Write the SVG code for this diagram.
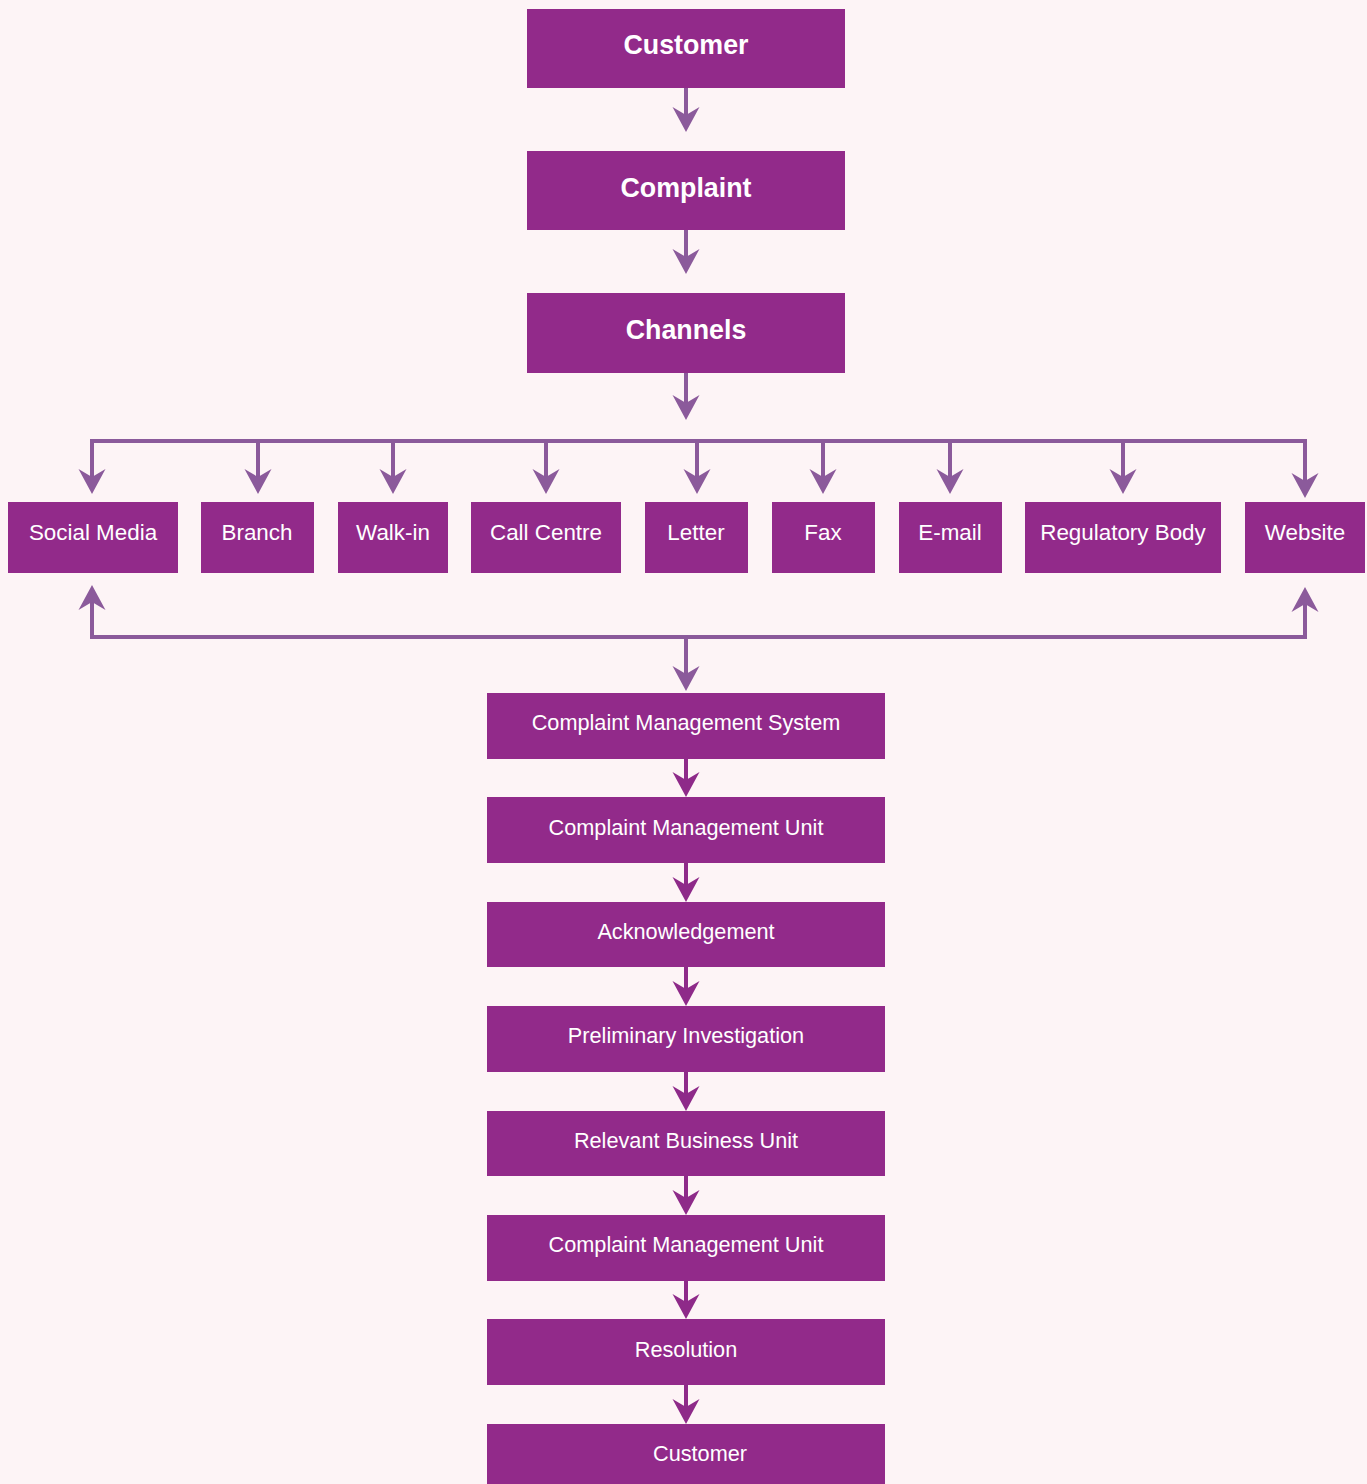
<svg xmlns="http://www.w3.org/2000/svg" width="1367" height="1484" viewBox="0 0 1367 1484">
<defs>
<marker id="ah" markerUnits="userSpaceOnUse" markerWidth="28" markerHeight="30" viewBox="-26 -15 28 30" refX="-17" refY="0" orient="auto">
<path d="M0,0 L-25,-13.5 L-17,0 L-25,13.5 Z" fill="#8b5a9b"/>
</marker>
<marker id="ah2" markerUnits="userSpaceOnUse" markerWidth="28" markerHeight="30" viewBox="-26 -15 28 30" refX="-17" refY="0" orient="auto">
<path d="M0,0 L-25,-13.5 L-17,0 L-25,13.5 Z" fill="#8e2a89"/>
</marker>
</defs>
<style>
.box{fill:#922a8a}
.t1{font-family:"Liberation Sans",Arial,sans-serif;font-size:26.8px;font-weight:bold;fill:#ffffff;text-anchor:middle}
.t2{font-family:"Liberation Sans",Arial,sans-serif;font-size:22.4px;fill:#ffffff;text-anchor:middle}
.t3{font-family:"Liberation Sans",Arial,sans-serif;font-size:21.7px;fill:#ffffff;text-anchor:middle;font-weight:300}
.c{stroke:#8b5a9b;stroke-width:4;fill:none}
.c2{stroke:#8e2a89;stroke-width:4;fill:none}
</style>
<rect width="1367" height="1484" fill="#fdf4f6"/>
<g id="connectors">
<line class="c" x1="686" y1="88" x2="686" y2="115" marker-end="url(#ah)"/>
<line class="c" x1="686" y1="230" x2="686" y2="257" marker-end="url(#ah)"/>
<line class="c" x1="686" y1="373" x2="686" y2="403" marker-end="url(#ah)"/>
<polyline class="c" points="92,477 92,441 1305,441 1305,481" marker-end="url(#ah)"/>
<line class="c" x1="92" y1="441" x2="92" y2="477" marker-end="url(#ah)"/>
<line class="c" x1="258" y1="441" x2="258" y2="477" marker-end="url(#ah)"/>
<line class="c" x1="393" y1="441" x2="393" y2="477" marker-end="url(#ah)"/>
<line class="c" x1="546" y1="441" x2="546" y2="477" marker-end="url(#ah)"/>
<line class="c" x1="697" y1="441" x2="697" y2="477" marker-end="url(#ah)"/>
<line class="c" x1="823" y1="441" x2="823" y2="477" marker-end="url(#ah)"/>
<line class="c" x1="950" y1="441" x2="950" y2="477" marker-end="url(#ah)"/>
<line class="c" x1="1123" y1="441" x2="1123" y2="477" marker-end="url(#ah)"/>
<polyline class="c" points="92,602 92,637 1305,637 1305,604" marker-end="url(#ah)"/>
<line class="c" x1="92" y1="637" x2="92" y2="602" marker-end="url(#ah)"/>
<line class="c" x1="686" y1="637" x2="686" y2="674" marker-end="url(#ah)"/>
<line class="c2" x1="686" y1="759" x2="686" y2="780" marker-end="url(#ah2)"/>
<line class="c2" x1="686" y1="863" x2="686" y2="885" marker-end="url(#ah2)"/>
<line class="c2" x1="686" y1="967" x2="686" y2="989" marker-end="url(#ah2)"/>
<line class="c2" x1="686" y1="1072" x2="686" y2="1094" marker-end="url(#ah2)"/>
<line class="c2" x1="686" y1="1176" x2="686" y2="1198" marker-end="url(#ah2)"/>
<line class="c2" x1="686" y1="1281" x2="686" y2="1302" marker-end="url(#ah2)"/>
<line class="c2" x1="686" y1="1385" x2="686" y2="1407" marker-end="url(#ah2)"/>
</g>
<g id="n-customer"><rect class="box" x="527" y="9" width="318" height="79"/><text class="t1" x="686" y="54">Customer</text></g>
<g id="n-complaint"><rect class="box" x="527" y="151" width="318" height="79"/><text class="t1" x="686" y="197">Complaint</text></g>
<g id="n-channels"><rect class="box" x="527" y="293" width="318" height="80"/><text class="t1" x="686" y="339">Channels</text></g>
<g id="n-social"><rect class="box" x="8" y="502" width="170" height="71"/><text class="t2" x="93" y="540">Social Media</text></g>
<g id="n-branch"><rect class="box" x="201" y="502" width="113" height="71"/><text class="t2" x="257" y="540">Branch</text></g>
<g id="n-walkin"><rect class="box" x="338" y="502" width="110" height="71"/><text class="t2" x="393" y="540">Walk-in</text></g>
<g id="n-callcentre"><rect class="box" x="471" y="502" width="150" height="71"/><text class="t2" x="546" y="540">Call Centre</text></g>
<g id="n-letter"><rect class="box" x="645" y="502" width="103" height="71"/><text class="t2" x="696" y="540">Letter</text></g>
<g id="n-fax"><rect class="box" x="772" y="502" width="103" height="71"/><text class="t2" x="823" y="540">Fax</text></g>
<g id="n-email"><rect class="box" x="899" y="502" width="103" height="71"/><text class="t2" x="950" y="540">E-mail</text></g>
<g id="n-regulatory"><rect class="box" x="1025" y="502" width="196" height="71"/><text class="t2" x="1123" y="540">Regulatory Body</text></g>
<g id="n-website"><rect class="box" x="1245" y="502" width="120" height="71"/><text class="t2" x="1305" y="540">Website</text></g>
<g id="n-cms"><rect class="box" x="487" y="693" width="398" height="66"/><text class="t3" x="686" y="730">Complaint Management System</text></g>
<g id="n-cmu1"><rect class="box" x="487" y="797" width="398" height="66"/><text class="t3" x="686" y="835">Complaint Management Unit</text></g>
<g id="n-ack"><rect class="box" x="487" y="902" width="398" height="65"/><text class="t3" x="686" y="939">Acknowledgement</text></g>
<g id="n-prelim"><rect class="box" x="487" y="1006" width="398" height="66"/><text class="t3" x="686" y="1043">Preliminary Investigation</text></g>
<g id="n-rbu"><rect class="box" x="487" y="1111" width="398" height="65"/><text class="t3" x="686" y="1148">Relevant Business Unit</text></g>
<g id="n-cmu2"><rect class="box" x="487" y="1215" width="398" height="66"/><text class="t3" x="686" y="1252">Complaint Management Unit</text></g>
<g id="n-resolution"><rect class="box" x="487" y="1319" width="398" height="66"/><text class="t3" x="686" y="1357">Resolution</text></g>
<g id="n-customer2"><rect class="box" x="487" y="1424" width="398" height="60"/><text class="t3" x="700" y="1461">Customer</text></g>
</svg>
